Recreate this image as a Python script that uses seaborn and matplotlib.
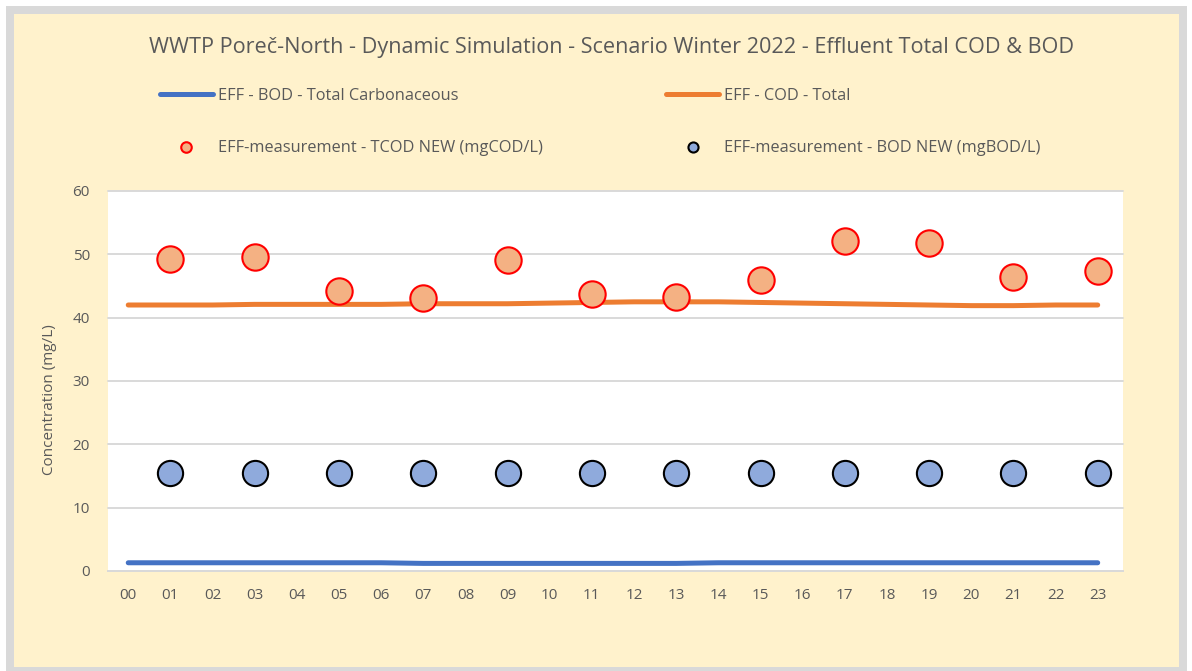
import matplotlib
matplotlib.use("Agg")
import matplotlib.pyplot as plt
import seaborn as sns
import numpy as np
from matplotlib.patches import Rectangle

sns.set_style("white")
plt.rcParams["font.family"] = ["Open Sans", "DejaVu Sans"]

# Data
hours = list(range(24))
hour_labels = [f"{h:02d}" for h in hours]
cod_total = [42.0, 42.0, 42.0, 42.1, 42.1, 42.1, 42.1, 42.2, 42.2, 42.2, 42.3, 42.4,
             42.5, 42.5, 42.5, 42.4, 42.3, 42.2, 42.1, 42.0, 41.9, 41.9, 42.0, 42.0]
bod_total = [1.3, 1.3, 1.3, 1.3, 1.3, 1.3, 1.3, 1.2, 1.2, 1.2, 1.2, 1.2,
             1.2, 1.2, 1.3, 1.3, 1.3, 1.3, 1.3, 1.3, 1.3, 1.3, 1.3, 1.3]
meas_hours = [1, 3, 5, 7, 9, 11, 13, 15, 17, 19, 21, 23]
tcod_meas = [49.3, 49.6, 44.2, 43.1, 49.1, 43.8, 43.3, 46.0, 52.1, 51.8, 46.4, 47.4]
bod_meas = [15.5] * 12

text_col = "#595959"
grid_col = "#D9D9D9"

fig = plt.figure(figsize=(11.92, 6.71), dpi=100, facecolor="white")
# chart frame: grey border + cream fill
fig.patches.append(Rectangle((6 / 1192, 0), 1181 / 1192, 665 / 671, transform=fig.transFigure,
                             facecolor="#D9D9D9", edgecolor="none", zorder=-2))
fig.patches.append(Rectangle((14 / 1192, 4 / 671), 1165 / 1192, 653 / 671, transform=fig.transFigure,
                             facecolor="#FFF2CC", edgecolor="none", zorder=-1))

ax = fig.add_axes([108 / 1192, 1 - 571 / 671, (1123 - 108) / 1192, (571 - 191) / 671])
ax.set_facecolor("white")

sns.lineplot(x=hours, y=bod_total, ax=ax, color="#4472C4", linewidth=3.6,
             solid_capstyle="round", label="EFF - BOD - Total Carbonaceous", zorder=3)
sns.lineplot(x=hours, y=cod_total, ax=ax, color="#ED7D31", linewidth=3.6,
             solid_capstyle="round", label="EFF - COD - Total", zorder=3)
sns.scatterplot(x=meas_hours, y=tcod_meas, ax=ax, s=360, color="#F4B183",
                edgecolor="#FF0000", linewidth=1.5, label="EFF-measurement - TCOD NEW (mgCOD/L)", zorder=4)
sns.scatterplot(x=meas_hours, y=bod_meas, ax=ax, s=330, color="#8FAADC",
                edgecolor="black", linewidth=1.5, label="EFF-measurement - BOD NEW (mgBOD/L)", zorder=4)

ax.set_xlim(-0.48, 23.6)
ax.set_ylim(0, 60)
ax.set_yticks(range(0, 61, 10))
ax.set_xticks(hours)
ax.set_xticklabels(hour_labels)
ax.grid(axis="y", color=grid_col, linewidth=1.4)
for gl in ax.get_ygridlines():
    gl.set_clip_on(False)
ax.set_axisbelow(True)
for side in ["top", "right", "left"]:
    ax.spines[side].set_visible(False)
ax.spines["bottom"].set_color(grid_col)
ax.spines["bottom"].set_linewidth(1.4)
ax.tick_params(axis="both", length=0, labelsize=11, colors=text_col)
ax.tick_params(axis="y", pad=13)
ax.tick_params(axis="x", pad=12)
ax.set_ylabel("Concentration (mg/L)", fontsize=11, color=text_col)
ax.yaxis.set_label_coords(-0.05, 0.45)
ax.set_xlabel("")

handles, labels = ax.get_legend_handles_labels()
ax.get_legend().remove()
order = [0, 2, 1, 3]
fig.legend([handles[i] for i in order], [labels[i] for i in order],
           loc="center left", bbox_to_anchor=(160 / 1192, 1 - 122 / 671), ncol=2,
           frameon=False, fontsize=11.8, labelcolor=text_col, handlelength=3.23,
           handletextpad=0.3, columnspacing=7.55, labelspacing=2.17,
           borderpad=0, borderaxespad=0, markerscale=0.4)

fig.text(611.5 / 1192, 1 - 48 / 671, "WWTP Poreč-North - Dynamic Simulation - Scenario Winter 2022 - Effluent Total COD & BOD",
         ha="center", va="center", fontsize=15.6, color=text_col)

fig.savefig("out.png", dpi=100, facecolor=fig.get_facecolor())
